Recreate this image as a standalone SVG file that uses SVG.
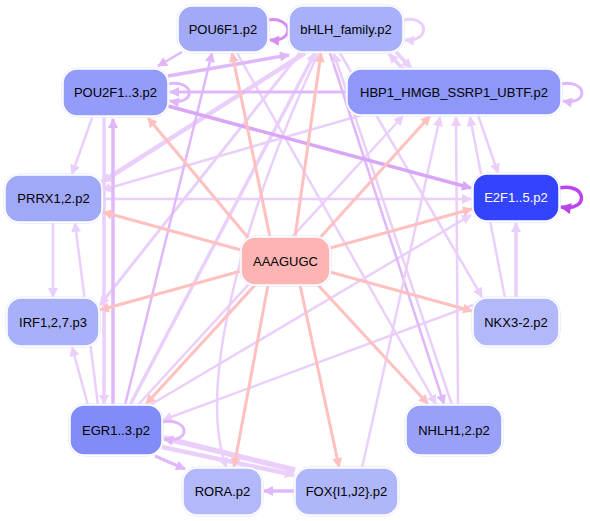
<svg xmlns="http://www.w3.org/2000/svg" width="590" height="521" viewBox="0 0 590 521">
<defs>
<style>
.n rect.o{fill:none;stroke:#dfe2ff;stroke-width:1}
.n rect.i{stroke:#ffffff;stroke-width:1.5}
.n text{font-family:"Liberation Sans",Arial,sans-serif;font-size:13px;fill:#000;text-anchor:middle;dominant-baseline:central}
.e path{fill:none}
.pk{stroke:#ffc0c0;stroke-width:3;marker-end:url(#mPk)}
.lt{stroke:#ebcffb;marker-end:url(#mLt)}
.md{stroke:#e0b8f9;marker-end:url(#mMd)}
.dk{stroke:#d9a6f6;marker-end:url(#mDk)}
</style>
<marker id="mPk" viewBox="0 0 10 10" refX="9" refY="5" markerUnits="userSpaceOnUse" markerWidth="12" markerHeight="10" orient="auto"><path d="M0,0 L10,5 L0,10 z" fill="#ffc0c0"/></marker>
<marker id="mLt" viewBox="0 0 10 10" refX="9" refY="5" markerUnits="userSpaceOnUse" markerWidth="12" markerHeight="10" orient="auto"><path d="M0,0 L10,5 L0,10 z" fill="#ebcffb"/></marker>
<marker id="mMd" viewBox="0 0 10 10" refX="9" refY="5" markerUnits="userSpaceOnUse" markerWidth="12" markerHeight="10" orient="auto"><path d="M0,0 L10,5 L0,10 z" fill="#e0b8f9"/></marker>
<marker id="mDk" viewBox="0 0 10 10" refX="9" refY="5" markerUnits="userSpaceOnUse" markerWidth="12" markerHeight="10" orient="auto"><path d="M0,0 L10,5 L0,10 z" fill="#d9a6f6"/></marker>
<marker id="mLp" viewBox="0 0 10 10" refX="9" refY="5" markerUnits="userSpaceOnUse" markerWidth="12" markerHeight="10" orient="auto"><path d="M0,0 L10,5 L0,10 z" fill="#d68cf2"/></marker>
<marker id="mE2" viewBox="0 0 10 10" refX="9" refY="5" markerUnits="userSpaceOnUse" markerWidth="13" markerHeight="11" orient="auto"><path d="M0,0 L10,5 L0,10 z" fill="#bb44ee"/></marker>
</defs>
<rect width="590" height="521" fill="#ffffff"/>
<g id="edges" class="e">
<path class="lt" stroke-width="2.5" d="M102,199 L471,199"/>
<path class="lt" stroke-width="4.5" d="M305,53 L102,182"/>
<path class="lt" stroke-width="2.5" d="M362,115 L102,190"/>
<path class="lt" stroke-width="3" d="M300,53 L100,305"/>
<path class="md" stroke-width="3.5" d="M113,405 L113,119"/>
<path class="lt" stroke-width="3.5" d="M104,118 L104,404"/>
<path class="lt" stroke-width="2.5" d="M92,118 L72,174"/>
<path class="lt" stroke-width="2.5" d="M53,223 L53,297"/>
<path class="lt" stroke-width="2.5" d="M88,405 L72,347"/>
<path class="lt" stroke-width="2.5" d="M98,405 L75,223"/>
<path class="md" stroke-width="2.5" d="M125,405 L212,53"/>
<path class="lt" stroke-width="3.5" d="M130,405 L315,53"/>
<path class="lt" stroke-width="2.5" d="M138,405 L403,116"/>
<path class="lt" stroke-width="2.5" d="M150,405 L471,215"/>
<path class="lt" stroke-width="2.5" d="M473,305 L163,420"/>
<path class="md" stroke-width="3" d="M155,456 L185,469"/>
<path class="lt" stroke-width="4.5" d="M162,447 L294,475"/>
<path class="lt" stroke-width="5.5" d="M295,470 L164,438"/>
<path class="md" stroke-width="3.5" d="M295,491 L264,491"/>
<path class="md" stroke-width="2.5" d="M330,53 L444,404"/>
<path class="lt" stroke-width="2.5" d="M237,53 L436,404"/>
<path class="lt" stroke-width="2.5" d="M452,405 L334,54"/>
<path class="lt" stroke-width="2.5" d="M362,468 L440,117"/>
<path class="lt" stroke-width="3.5" d="M516,298 L516,223"/>
<path class="lt" stroke-width="2.5" d="M505,298 L470,117"/>
<path class="lt" stroke-width="2.5" d="M458,405 L456,117"/>
<path class="lt" stroke-width="2.5" d="M478,115 L498,173"/>
<path class="lt" stroke-width="2.5" d="M340,53 L482,297"/>
<path class="lt" stroke-width="2.5" d="M318,54 C250,200 195,380 226,467"/>
<path class="md" stroke-width="2.5" d="M182,52 L158,66"/>
<path class="md" stroke-width="3.5" d="M168,76 L289,55"/>
<path class="lt" stroke-width="3.5" d="M396,52 L411,68"/>
<path class="lt" stroke-width="3.5" d="M404,70 L389,54"/>
<path class="md" stroke-width="3" d="M347,92 L170,92"/>
<path class="dk" stroke-width="3.5" d="M168,106 L471,188"/>
<path stroke="#d68cf2" stroke-width="3" marker-end="url(#mLp)" d="M268,20 C292,16 296,42 270,40"/>
<path class="lt" stroke-width="3" d="M403,20 C428,14 432,42 405,40"/>
<path class="md" stroke-width="3" d="M168,84 C196,79 196,106 170,101"/>
<path class="md" stroke-width="3" d="M561,84 C588,79 589,106 563,101"/>
<path stroke="#bb44ee" stroke-width="3.5" marker-end="url(#mE2)" d="M559,188 C587,182 590,212 561,207"/>
<path class="md" stroke-width="3" d="M162,422 C190,417 192,444 164,439"/>
<path class="pk" d="M270,237 L232,53"/>
<path class="pk" d="M295,237 L321,53"/>
<path class="pk" d="M250,240 L148,118"/>
<path class="pk" d="M318,240 L430,116"/>
<path class="pk" d="M241,250 L103,212"/>
<path class="pk" d="M330,248 L472,209"/>
<path class="pk" d="M241,271 L100,310"/>
<path class="pk" d="M330,272 L472,311"/>
<path class="pk" d="M255,285 L146,404"/>
<path class="pk" d="M318,285 L428,404"/>
<path class="pk" d="M268,285 L234,467"/>
<path class="pk" d="M300,285 L339,467"/>
</g>
<g id="POU6F1" class="n"><rect class="o" x="177" y="5" width="92" height="48" rx="15"/><rect class="i" x="178" y="6" width="90" height="46" rx="14" fill="#a2aaf8"/><text x="223" y="29">POU6F1.p2</text></g>
<g id="bHLH" class="n"><rect class="o" x="288" y="5" width="116" height="48" rx="15"/><rect class="i" x="289" y="6" width="114" height="46" rx="14" fill="#a8b0f9"/><text x="346" y="29">bHLH_family.p2</text></g>
<g id="POU2F1" class="n"><rect class="o" x="62" y="68" width="107" height="49" rx="15"/><rect class="i" x="63" y="69" width="105" height="47" rx="14" fill="#939cf8"/><text x="115.5" y="92.5">POU2F1..3.p2</text></g>
<g id="HBP1" class="n"><rect class="o" x="346" y="68" width="216" height="48" rx="15"/><rect class="i" x="347" y="69" width="214" height="46" rx="14" fill="#8e98f8"/><text x="454" y="92">HBP1_HMGB_SSRP1_UBTF.p2</text></g>
<g id="PRRX1" class="n"><rect class="o" x="4" y="174" width="99" height="49" rx="15"/><rect class="i" x="5" y="175" width="97" height="47" rx="14" fill="#a0a8f8"/><text x="53.5" y="198.5">PRRX1,2.p2</text></g>
<g id="E2F1" class="n"><rect class="o" x="472" y="173" width="88" height="49" rx="15"/><rect class="i" x="473" y="174" width="86" height="47" rx="14" fill="#3344fe"/><text x="516" y="197.5" style="fill:#ffffff">E2F1..5.p2</text></g>
<g id="AAAGUGC" class="n"><rect class="o" x="240" y="236" width="91" height="50" rx="15"/><rect class="i" x="241" y="237" width="89" height="48" rx="14" fill="#ffb4b4"/><text x="285.5" y="261">AAAGUGC</text></g>
<g id="IRF1" class="n"><rect class="o" x="6" y="297" width="94" height="50" rx="15"/><rect class="i" x="7" y="298" width="92" height="48" rx="14" fill="#a8b0f9"/><text x="53" y="322">IRF1,2,7.p3</text></g>
<g id="NKX3" class="n"><rect class="o" x="472" y="297" width="88" height="50" rx="15"/><rect class="i" x="473" y="298" width="86" height="48" rx="14" fill="#b2b8fa"/><text x="516" y="322">NKX3-2.p2</text></g>
<g id="EGR1" class="n"><rect class="o" x="69" y="404" width="94" height="52" rx="15"/><rect class="i" x="70" y="405" width="92" height="50" rx="14" fill="#818cf8"/><text x="116" y="430">EGR1..3.p2</text></g>
<g id="NHLH1" class="n"><rect class="o" x="405" y="404" width="98" height="52" rx="15"/><rect class="i" x="406" y="405" width="96" height="50" rx="14" fill="#98a0f8"/><text x="454" y="430">NHLH1,2.p2</text></g>
<g id="RORA" class="n"><rect class="o" x="182" y="467" width="81" height="49" rx="15"/><rect class="i" x="183" y="468" width="79" height="47" rx="14" fill="#b2b8fa"/><text x="222.5" y="491.5">RORA.p2</text></g>
<g id="FOX" class="n"><rect class="o" x="294" y="467" width="105" height="49" rx="15"/><rect class="i" x="295" y="468" width="103" height="47" rx="14" fill="#b0b6fa"/><text x="346.5" y="491.5">FOX{I1,J2}.p2</text></g>
</svg>
